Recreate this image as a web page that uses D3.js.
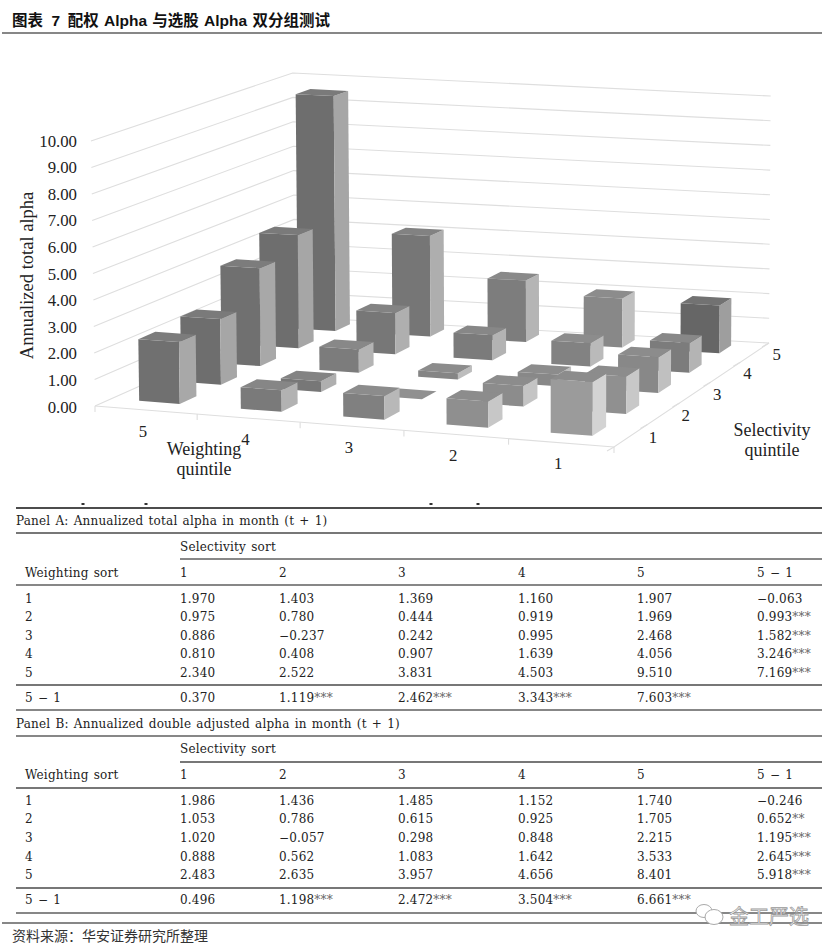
<!DOCTYPE html>
<html><head><meta charset="utf-8">
<script src="https://cdn.jsdelivr.net/npm/d3@7"></script>
<style>html,body{margin:0;background:#fff}svg{display:block}</style>
</head><body><svg id="c" width="834" height="950"></svg>
<script>
const weightingOrder=[5,4,3,2,1];
const selectivityOrder=[1,2,3,4,5];
const yTicks=[0,1,2,3,4,5,6,7,8,9,10];
// Annualized total alpha; rows are weighting 1..5, columns selectivity 1..5
const totalAlpha=[
[1.970,1.403,1.369,1.160,1.907],
[0.975,0.780,0.444,0.919,1.969],
[0.886,-0.237,0.242,0.995,2.468],
[0.810,0.408,0.907,1.639,4.056],
[2.340,2.522,3.831,4.503,9.510]];
// Grey level of the front face of each bar, same layout
const barGrey=[
[155,144,136,124,102],
[143,140,136,130,136],
[128,144,133,123,125],
[122,119,124,119,118],
[112,110,112,110,110]];
const panelATitle="Panel A: Annualized total alpha in month (t + 1)";
const panelBTitle="Panel B: Annualized double adjusted alpha in month (t + 1)";
const headerCols=["1","2","3","4","5","5 − 1"];
const rowLabels=["1","2","3","4","5","5 − 1"];
const panelARows=[
["1.970","1.403","1.369","1.160","1.907","−0.063"],
["0.975","0.780","0.444","0.919","1.969","0.993***"],
["0.886","−0.237","0.242","0.995","2.468","1.582***"],
["0.810","0.408","0.907","1.639","4.056","3.246***"],
["2.340","2.522","3.831","4.503","9.510","7.169***"],
["0.370","1.119***","2.462***","3.343***","7.603***",""]];
const panelBRows=[
["1.986","1.436","1.485","1.152","1.740","−0.246"],
["1.053","0.786","0.615","0.925","1.705","0.652**"],
["1.020","−0.057","0.298","0.848","2.215","1.195***"],
["0.888","0.562","1.083","1.642","3.533","2.645***"],
["2.483","2.635","3.957","4.656","8.401","5.918***"],
["0.496","1.198***","2.472***","3.504***","6.661***",""]];

const svg=d3.select("#c");
const SERIF='"Liberation Serif",serif';
const TBL='"DejaVu Serif",serif';

// ---------- floor mapping: bilinear between the four corners, with foreshortening on u and v ----------
const A=[95,406],B=[614,447],D=[769,343],C=[295,317];
const unitA=26.5,unitB=27.6,unitD=24.7,unitC=24.4;
const warp=(t,a)=>t/(a+(1-a)*t);
const mix=(p,q,r,s,u,v)=>p*(1-u)*(1-v)+q*u*(1-v)+r*u*v+s*(1-u)*v;
function P(u0,v0,val){
 const u=warp(u0,1.02),v=warp(v0,0.91);
 const x=mix(A[0],B[0],D[0],C[0],u,v), y=mix(A[1],B[1],D[1],C[1],u,v);
 const k=mix(unitA,unitB,unitD,unitC,u,v);
 return [x+(x-570)*0.00085*val,y-k*val];
}
const uScale=d3.scaleBand().domain(weightingOrder).range([-0.005,0.995]).paddingInner(0.6).paddingOuter(0.3);
const vScale=d3.scaleBand().domain(selectivityOrder).range([0.015,1.015]).paddingInner(0.6).paddingOuter(0.3);
const uCenter=d3.scaleBand().domain(weightingOrder).range([0,1]);
const vCenter=d3.scaleBand().domain(selectivityOrder).range([0,1]);
const line=d3.line();
const grid=svg.append("g").attr("fill","none").attr("stroke","#dedede").attr("stroke-width",1.1);
grid.selectAll("path.l").data(yTicks).join("path").attr("class","l").attr("d",t=>line([P(0,0,t),P(0,1,t),P(1,1,t)]));
grid.append("path").attr("d",line([P(0,0,0),P(1,0,0),P(1,1,0)]));
const uEdges=weightingOrder.map(w=>uCenter(w)).concat([1]);
const vEdges=selectivityOrder.map(s=>vCenter(s)).concat([1]);
grid.selectAll("path.tu").data(uEdges).join("path").attr("class","tu").attr("d",u=>{const p=P(u,0,0);return line([p,[p[0],p[1]+6]]);});
grid.selectAll("path.tv").data(vEdges).join("path").attr("class","tv").attr("d",v=>{const p=P(1,v,0);return line([p,[p[0]-7,p[1]+4]]);});

// ---------- bars ----------
const bars=[];
weightingOrder.forEach(w=>selectivityOrder.forEach(s=>bars.push({w,s,val:totalAlpha[w-1][s-1],grey:barGrey[w-1][s-1]})));
bars.sort((a,b)=>d3.descending(a.s,b.s)||d3.ascending(uScale(a.w),uScale(b.w)));
const col=g=>d3.rgb(g,g,g).formatHex();
const bw=uScale.bandwidth(),bd=vScale.bandwidth();
const gb=svg.append("g").selectAll("g").data(bars).join("g");
gb.each(function(d){
 const g=d3.select(this);
 const u0=uScale(d.w),u1=u0+bw,v0=vScale(d.s),v1=v0+bd;
 if(d.val>0){
  g.append("path").attr("fill",col(d.grey)).attr("d",line([P(u0,v0,0),P(u1,v0,0),P(u1,v0,d.val),P(u0,v0,d.val)])+"Z");
  g.append("path").attr("fill",col(Math.min(225,d.grey+56))).attr("d",line([P(u1,v0,0),P(u1,v1,0),P(u1,v1,d.val),P(u1,v0,d.val)])+"Z");
  g.append("path").attr("fill",col(Math.min(140,d.grey+12))).attr("d",line([P(u0,v0,d.val),P(u1,v0,d.val),P(u1,v1,d.val),P(u0,v1,d.val)])+"Z");
 } else {
  g.append("path").attr("fill",col(d.grey)).attr("d",line([P(u0,v0,0),P(u1,v0,0),P(u1,v1,0),P(u0,v1,0)])+"Z");
 }
});

// ---------- axis text ----------
const axT=svg.append("g").attr("font-family",SERIF).attr("font-size",16.8).attr("fill","#222");
const yLab=d3.scaleLinear().domain([0,10]).range([407,141]);
axT.selectAll("text.y").data(yTicks).join("text").attr("class","y").attr("x",77).attr("y",t=>yLab(t)+5.5).attr("text-anchor","end").text(t=>d3.format(".2f")(t));
axT.append("text").attr("transform","translate(33,275.5) rotate(-90)").attr("text-anchor","middle").attr("font-size",18.5).text("Annualized total alpha");
axT.selectAll("text.u").data(weightingOrder).join("text").attr("class","u").attr("text-anchor","middle")
 .attr("x",w=>P(uCenter(w)+uCenter.bandwidth()/2,0,0)[0]-3).attr("y",w=>P(uCenter(w)+uCenter.bandwidth()/2,0,0)[1]+26.5).text(w=>w);
axT.selectAll("text.v").data(selectivityOrder).join("text").attr("class","v").attr("text-anchor","middle")
 .attr("x",s=>P(1,vCenter(s)+vCenter.bandwidth()/2,0)[0]+22).attr("y",s=>P(1,vCenter(s)+vCenter.bandwidth()/2,0)[1]+7).text(s=>s);
[["Weighting",204,455],["quintile",204,475],["Selectivity",772,436],["quintile",772,456]].forEach(([t,x,y])=>
 axT.append("text").attr("x",x).attr("y",y).attr("text-anchor","middle").attr("font-size",18).text(t));

// ---------- table ----------
const colX=[180,279,398,518,637,757];
const hl=(y,x0,x1,c,w)=>svg.append("line").attr("x1",x0).attr("x2",x1).attr("y1",y).attr("y2",y).attr("stroke",c).attr("stroke-width",w);
const K="#111",G="#777";
[[33,2,822,K,1.2],[508,16,822,K,1.4],[533,16,822,G,2],[559,180,822,K,1],[585,16,822,K,1.2],[685,16,822,G,2],[710,16,822,K,1.2],
 [736,16,822,K,1.2],[762,180,822,G,2],[788,16,822,G,2],[888,16,822,G,2],[913,16,822,K,1.2],[923,2,822,K,1.2]]
 .forEach(a=>hl(...a));
const tbl=svg.append("g").attr("font-family",TBL).attr("font-size",12).attr("letter-spacing",0.2).attr("word-spacing",1.1).attr("fill","#222");
function cell(x,y,s){
 const t=tbl.append("text").attr("x",x).attr("y",y);
 const m=s.match(/^([^*]*)(\*+)$/);
 if(m){t.append("tspan").text(m[1]);t.append("tspan").attr("fill","#666").text(m[2]);}
 else t.text(s);
}
function panel(title,yTitle,ySel,yHead,yRows,rows){
 cell(16,yTitle,title);
 cell(180,ySel,"Selectivity sort");
 cell(25,yHead,"Weighting sort");
 headerCols.forEach((h,i)=>cell(colX[i],yHead,h));
 rows.forEach((r,i)=>{cell(25,yRows[i],rowLabels[i]);r.forEach((v,j)=>{if(v)cell(colX[j],yRows[i],v);});});
}
panel(panelATitle,525,551,577,[603,621,640,658,677,702],panelARows);
panel(panelBTitle,728,753,779,[805,823,842,861,879,904],panelBRows);

// ---------- title, source, artefacts ----------
const ttl=svg.append("text").attr("x",12).attr("y",26).attr("font-family",'"Liberation Sans","Noto Sans CJK SC",sans-serif').attr("font-weight",700).attr("font-size",15.5).attr("word-spacing",1).attr("fill","#111");
ttl.append("tspan").text("图表");
ttl.append("tspan").attr("dx",8.5).text("7");
ttl.append("tspan").attr("dx",7.5).text("配权 Alpha 与选股 Alpha 双分组测试");
svg.append("text").attr("x",12).attr("y",941).attr("font-family",'"Noto Sans CJK SC",sans-serif').attr("font-size",14).attr("fill","#333").text("资料来源：华安证券研究所整理");
svg.selectAll("rect.sp").data([83,146,431,478]).join("rect").attr("class","sp").attr("x",d=>d-1.5).attr("y",503).attr("width",3).attr("height",2).attr("fill","#333");
const wm=svg.append("g").attr("fill","none").attr("stroke","#aaa").attr("stroke-width",1);
wm.append("ellipse").attr("cx",704).attr("cy",911).attr("rx",8).attr("ry",6.5).attr("fill","#fff");
wm.append("ellipse").attr("cx",714).attr("cy",917).attr("rx",9).attr("ry",7.5).attr("fill","#fff");
wm.append("text").attr("x",729).attr("y",924).attr("font-family",'"Noto Sans CJK SC",sans-serif').attr("font-size",20).attr("fill","#fff").attr("stroke","#999").attr("stroke-width",.8).text("金工严选");
</script></body></html>
